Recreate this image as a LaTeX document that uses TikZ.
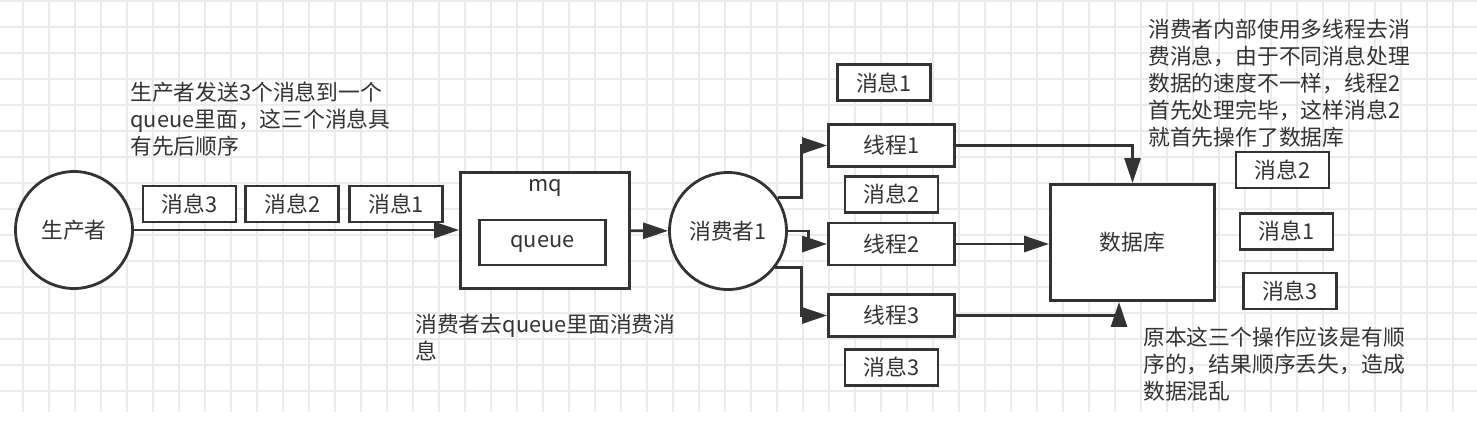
\documentclass[tikz,border=0pt]{standalone}
\usepackage{fontspec}
\setmainfont{Noto Sans CJK SC}
\usetikzlibrary{
  arrows.meta,
  positioning,
}
\definecolor{ink}{HTML}{333333}
\definecolor{gridgray}{HTML}{EBEBEB}
\tikzset{
  box/.style={
    rectangle,
    draw=ink,
    line width=1.6pt,
    fill=white,
    text=ink,
    text centered,
  },
  msg/.style={
    box,
    minimum width=1.86cm,
    minimum height=0.72cm,
  },
  thread/.style={
    box,
    minimum width=2.52cm,
    minimum height=0.84cm,
  },
  actor/.style={
    circle,
    draw=ink,
    line width=1.6pt,
    fill=white,
    text=ink,
    minimum size=2.34cm,
  },
  arrow/.style={
    draw=ink,
    line width=1.6pt,
    -{Triangle[length=0.5cm,width=0.32cm]},
  },
  note/.style={
    anchor=north west,
    inner sep=0pt,
    align=left,
    text=ink,
  },
  gridline/.style={
    draw=gridgray,
    line width=0.6pt,
  },
}

\begin{document}
\begin{tikzpicture}[x=0.02cm, y=-0.02cm, font=\fontsize{12.4}{15.3}\selectfont]

  \useasboundingbox (0,0) rectangle (1477,443);

  % background grid
  \foreach \gx in {23,49,...,1453} \draw[gridline] (\gx,0) -- (\gx,412);
  \foreach \gy in {1,27,...,391} \draw[gridline] (0,\gy) -- (1477,\gy);

  \node[actor] (producer) at (74,230) {生产者};

  \node[msg] (m3) at (189.5,204) {消息3};
  \node[msg, right=0.14cm of m3] (m2) {消息2};
  \node[msg, right=0.16cm of m2] (m1) {消息1};

  \node[box, minimum width=3.38cm, minimum height=2.32cm] (mq) at (545,230.5) {};
  \node[text=ink] (mqlabel) at (545,188) {mq};
  \node[box, minimum width=2.52cm, minimum height=0.9cm, text height=0.55em, text depth=0pt] (queue) at (542.5,242.5) {queue};

  \node[actor] (consumer) at (728,231) {消费者1};

  \node[thread] (th1) at (891.5,145.5) {线程1};
  \node[thread] (th2) at (891.5,244) {线程2};
  \node[thread] (th3) at (891.5,315.5) {线程3};
  \node[msg, above=0.42cm of th1, xshift=-0.15cm] (tm1) {消息1};
  \node[msg, below=0.14cm of th1] (tm2) {消息2};
  \node[msg, below=0.2cm of th3] (tm3) {消息3};

  \node[box, minimum width=3.28cm, minimum height=2.32cm] (db) at (1132.5,242.5) {数据库};

  \node[msg] (dm2) at (1282.5,170) {消息2};
  \node[msg] (dm1) at (1286.5,231.5) {消息1};
  \node[msg] (dm3) at (1290,291) {消息3};

  \node[note] (note1) at (130,82) {生产者发送3个消息到一个\\queue里面，这三个消息具\\有先后顺序};
  \node[note] (note2) at (415,314) {消费者去queue里面消费消\\息};
  \node[note] (note3) at (1148,19) {消费者内部使用多线程去消\\费消息，由于不同消息处理\\数据的速度不一样，线程2\\首先处理完毕，这样消息2\\就首先操作了数据库};
  \node[note] (note4) at (1143,327) {原本这三个操作应该是有顺\\序的，结果顺序丢失，造成\\数据混乱};

  \draw[arrow] (producer.east) -- (producer.east -| mq.west);
  \draw[arrow] (mq) -- (consumer);
  \draw[arrow] (consumer.34) -| ([xshift=-0.52cm]th1.west) -- (th1.west);
  \draw[arrow] (consumer.east) -| ([xshift=-0.38cm]th2.west) -- (th2.west);
  \draw[arrow] (consumer.-38) -| ([xshift=-0.52cm]th3.west) -- (th3.west);
  \draw[arrow] (th1.east) -| (db.north);
  \draw[arrow] (th2.east) -- (th2.east -| db.west);
  \draw[arrow] (th3.east) -| ([xshift=-0.27cm]db.south);

\end{tikzpicture}
\end{document}
